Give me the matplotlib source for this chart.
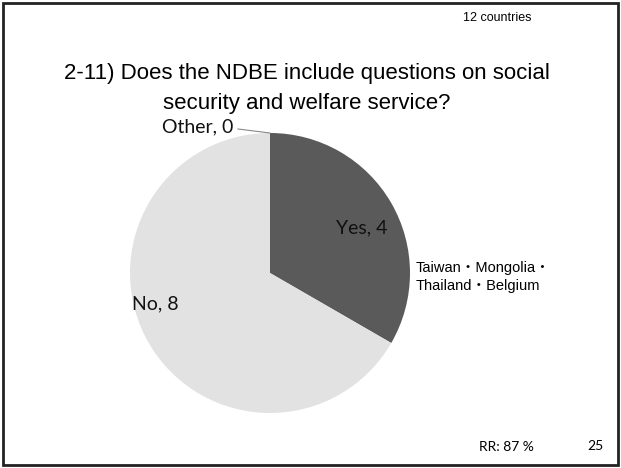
import matplotlib
matplotlib.use("Agg")
import matplotlib.pyplot as plt
from matplotlib.patches import Rectangle

categories = ["Yes", "No", "Other"]
values = [4, 8, 0]
colors = ["#5a5a5a", "#e2e2e2", "#bbbbbb"]
title_lines = ["2-11) Does the NDBE include questions on social",
               "security and welfare service?"]
note_countries = "12 countries"
yes_countries = ["Taiwan\u30fbMongolia\u30fb", "Thailand\u30fbBelgium"]
rr_text = "RR: 87 %"
page_no = "25"

W, H = 621, 468
fig = plt.figure(figsize=(W / 100, H / 100), dpi=100)
ax = fig.add_axes([0, 0, 1, 1])

# slide border
ax.add_patch(Rectangle((3, 3), W - 6, H - 6, fill=False, lw=2, ec="#222222"))

cx, cy, r = 270, H - 273, 140
wedges, _ = ax.pie(values, colors=colors, startangle=90, counterclock=False,
                   center=(cx, cy), radius=r, frame=True,
                   wedgeprops=dict(linewidth=0))
ax.set_xlim(0, W)
ax.set_ylim(0, H)
ax.set_aspect("equal")
ax.axis("off")

lab_font = "Lato"
label_pos = {"Yes": (362, H - 228), "No": (155, H - 304), "Other": (198, H - 127)}
for c, v in zip(categories, values):
    x, y = label_pos[c]
    ax.text(x, y, f"{c}, {v}", fontsize=14, family=lab_font, ha="center",
            va="center", color="#111111")
# leader line for Other
ax.plot([238, 270], [H - 129, H - 133], color="#888888", lw=0.8)

ax.text(307, H - 74, title_lines[0], fontsize=16, family="Liberation Sans",
        ha="center", va="center")
ax.text(307, H - 104, title_lines[1], fontsize=16, family="Liberation Sans",
        ha="center", va="center")
ax.text(497, H - 18, note_countries, fontsize=9, family="Liberation Sans",
        ha="center", va="center")
ax.text(416, H - 268, yes_countries[0], fontsize=10.5,
        family=["Liberation Sans", "Noto Sans CJK JP"], ha="left", va="center")
ax.text(416, H - 286, yes_countries[1], fontsize=10.5,
        family=["Liberation Sans", "Noto Sans CJK JP"], ha="left", va="center")
ax.text(506, H - 447, rr_text, fontsize=10, family="Lato", ha="center", va="center")
ax.text(595, H - 446, page_no, fontsize=10, family="Lato", ha="center", va="center")

fig.savefig("out.png", dpi=100)
